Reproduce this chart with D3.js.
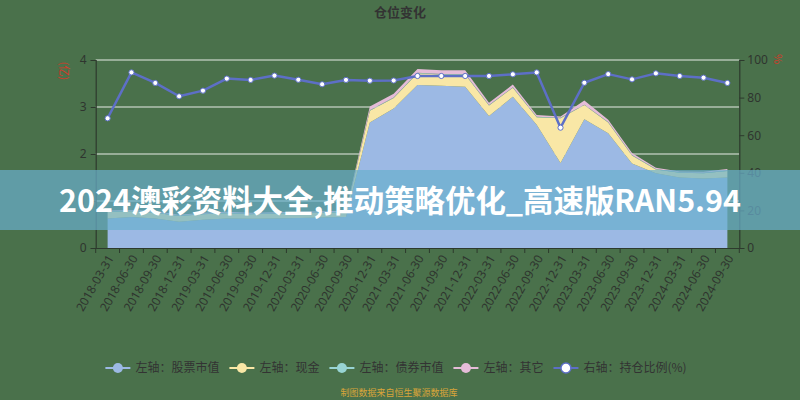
<!DOCTYPE html>
<html><head><meta charset="utf-8">
<script src="https://cdn.jsdelivr.net/npm/d3@7/dist/d3.min.js"></script>
<style>
html,body{margin:0;padding:0;background:#4a714b;}
svg{display:block;font-family:"Noto Sans CJK SC","Noto Sans",sans-serif;}
</style></head>
<body>
<svg id="c" width="800" height="400"></svg>
<script>
const categories = ["2018-03-31","2018-06-30","2018-09-30","2018-12-31","2019-03-31","2019-06-30","2019-09-30","2019-12-31","2020-03-31","2020-06-30","2020-09-30","2020-12-31","2021-03-31","2021-06-30","2021-09-30","2021-12-31","2022-03-31","2022-06-30","2022-09-30","2022-12-31","2023-03-31","2023-06-30","2023-09-30","2023-12-31","2024-03-31","2024-06-30","2024-09-30"];
const stockValue = [0.63,0.66,0.63,0.56,0.60,0.63,0.62,0.63,0.64,0.65,0.66,2.67,2.97,3.47,3.45,3.43,2.81,3.22,2.62,1.81,2.74,2.44,1.80,1.59,1.50,1.48,1.50];
const cashValue  = [0.14,0.12,0.12,0.12,0.12,0.11,0.10,0.10,0.10,0.10,0.10,0.25,0.22,0.25,0.24,0.26,0.22,0.19,0.16,0.95,0.30,0.23,0.17,0.08,0.10,0.11,0.14];
const bondValue  = [0.01,0.01,0.01,0.01,0.01,0.01,0.01,0.01,0.01,0.01,0.01,0.01,0.01,0.01,0.01,0.01,0.01,0.01,0.01,0.01,0.01,0.01,0.01,0.01,0.01,0.01,0.01];
const otherValue = [0.02,0.02,0.02,0.02,0.02,0.02,0.02,0.02,0.02,0.02,0.02,0.08,0.08,0.08,0.08,0.08,0.05,0.06,0.04,0.03,0.09,0.05,0.04,0.03,0.02,0.02,0.03];
const holdRatio  = [69.0,93.4,87.8,80.7,83.7,90.1,89.4,91.7,89.5,87.1,89.4,89.0,89.1,91.5,91.5,91.5,91.5,92.4,93.4,64.0,87.9,92.5,89.7,92.9,91.5,90.6,87.8];
const leftTicks = [0,1,2,3,4];
const rightTicks = [0,20,40,60,80,100];
const seriesNames = ["左轴：股票市值","左轴：现金","左轴：债券市值","左轴：其它","右轴：持仓比例(%)"];
const seriesColors = ["#9cb9e4","#f9e7a6","#98d4d4","#e5bcd8","#5d6fc6"];
const titleText = "仓位变化";
const bannerText = "2024澳彩资料大全,推动策略优化_高速版RAN5.94";
const sourceText = "制图数据来自恒生聚源数据库";

const svg = d3.select("#c");
const W=800,H=400, L=95.7, R=739.3, T=60, B=248;

svg.append("rect").attr("width",W).attr("height",H).attr("fill","#4a714b");

const x = d3.scaleBand().domain(categories).range([L,R]).padding(0);
const cx = d => x(d)+x.bandwidth()/2;
const yL = d3.scaleLinear().domain([0,4]).range([B,T]);
const yR = d3.scaleLinear().domain([0,100]).range([B,T]);

// title
svg.append("text").attr("x",400).attr("y",17).attr("text-anchor","middle")
  .attr("font-size",13).attr("font-weight","bold").attr("fill","#333").text(titleText);

// grid lines
svg.append("g").selectAll("line").data(leftTicks.filter(d=>d>0)).join("line")
  .attr("x1",L).attr("x2",R).attr("y1",d=>yL(d)).attr("y2",d=>yL(d))
  .attr("stroke","#e6ece6").attr("stroke-width",1);

// stacked areas
const rows = categories.map((c,i)=>({cat:c,stock:stockValue[i],cash:cashValue[i],bond:bondValue[i],other:otherValue[i]}));
const keys = ["stock","cash","bond","other"];
const stacked = d3.stack().keys(keys)(rows);
const area = d3.area().x(d=>cx(d.data.cat)).y0(d=>yL(d[0])).y1(d=>yL(d[1]));
svg.append("g").selectAll("path").data(stacked).join("path")
  .attr("d",area).attr("fill",(d,i)=>seriesColors[i]);

// axes
const axL = svg.append("g").attr("transform",`translate(${L},0)`)
  .call(d3.axisLeft(yL).tickValues(leftTicks).tickSize(5).tickPadding(4).tickFormat(d3.format("d")));
const axR = svg.append("g").attr("transform",`translate(${R},0)`)
  .call(d3.axisRight(yR).tickValues(rightTicks).tickSize(5).tickPadding(3).tickFormat(d3.format("d")));
const axX = svg.append("g").attr("transform",`translate(0,${B})`)
  .call(d3.axisBottom(x).tickSize(0).tickFormat(""));
[axL,axR,axX].forEach(a=>{
  a.select(".domain").attr("stroke","#2d3a2d").attr("stroke-width",1.2);
  a.selectAll(".tick line").attr("stroke","#2d3a2d");
  a.selectAll("text").attr("fill","#2f352f").attr("font-size",12).attr("font-family","'Noto Sans',sans-serif");
});
// x boundary ticks
const bounds = categories.map(c=>x(c)).concat([R]);
svg.append("g").selectAll("line").data(bounds).join("line")
  .attr("x1",d=>d).attr("x2",d=>d).attr("y1",B).attr("y2",B+5).attr("stroke","#2d3a2d");
// x labels
svg.append("g").selectAll("text").data(categories).join("text")
  .attr("transform",d=>`translate(${cx(d)+3},${B+8}) rotate(-60)`)
  .attr("text-anchor","end").attr("dy","0.35em")
  .attr("font-size",12).attr("font-family","'Noto Sans',sans-serif").attr("fill","#2f352f").text(d=>d);

// axis names
svg.append("text").attr("transform",`translate(60,71) rotate(90)`).attr("text-anchor","middle")
  .attr("font-size",11).attr("fill","#d23a2a").text("(亿)");
svg.append("text").attr("transform",`translate(774,59) rotate(90)`).attr("text-anchor","middle")
  .attr("font-size",11).attr("fill","#d23a2a").text("%");

// ratio line
const line = d3.line().x((d,i)=>cx(categories[i])).y(d=>yR(d));
svg.append("path").datum(holdRatio).attr("d",line).attr("fill","none")
  .attr("stroke",seriesColors[4]).attr("stroke-width",2.5).attr("stroke-linejoin","round");
svg.append("g").selectAll("circle").data(holdRatio).join("circle")
  .attr("cx",(d,i)=>cx(categories[i])).attr("cy",d=>yR(d)).attr("r",2.6)
  .attr("fill","#fff").attr("stroke",seriesColors[4]).attr("stroke-width",1);

// legend
const lg = svg.append("g");
let items = seriesNames.map((n,i)=>({n,i}));
const tmp = lg.append("text").attr("font-size",12);
items.forEach(it=>{ tmp.text(it.n); it.w = tmp.node().getComputedTextLength(); });
tmp.remove();
const totalW = d3.sum(items,d=>25+5+d.w) + 10*(items.length-1);
let lx = 396 - totalW/2;
const ly = 368;
items.forEach(it=>{
  const c = seriesColors[it.i];
  const g = lg.append("g");
  g.append("line").attr("x1",lx).attr("x2",lx+25).attr("y1",ly).attr("y2",ly).attr("stroke",c).attr("stroke-width",2);
  g.append("circle").attr("cx",lx+12.5).attr("cy",ly).attr("r",5)
    .attr("fill", it.i===4 ? "#fff" : c).attr("stroke", it.i===4 ? c : "none").attr("stroke-width",1.5);
  g.append("text").attr("x",lx+30).attr("y",ly).attr("dy","0.35em").attr("font-size",12).attr("fill","#333").text(it.n);
  lx += 25+5+it.w+10;
});

// source
svg.append("text").attr("x",399).attr("y",396).attr("text-anchor","middle")
  .attr("font-size",9).attr("fill","#d9a53a").text(sourceText);

// banner overlay
svg.append("rect").attr("x",0).attr("y",170).attr("width",W).attr("height",60)
  .attr("fill","rgb(105,175,205)").attr("fill-opacity",0.7);
const bt = svg.append("text").attr("x",400).attr("y",201).attr("text-anchor","middle").attr("dy","0.35em")
  .attr("font-size",28).attr("font-weight","bold").attr("fill","#fff")
  .attr("font-family","'Noto Sans CJK SC',sans-serif").text(bannerText);
const bw = bt.node().getComputedTextLength();
bt.attr("font-size", 28*682/bw);
</script>
</body></html>
